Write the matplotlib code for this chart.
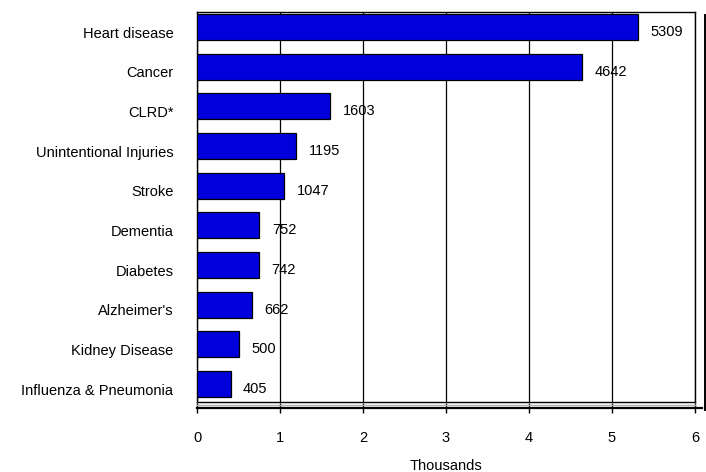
import matplotlib
matplotlib.use("Agg")
import matplotlib.pyplot as plt
import matplotlib.transforms as mtransforms
from matplotlib.lines import Line2D

# Leading causes of death (thousands)
causes = ["Heart disease", "Cancer", "CLRD*", "Unintentional Injuries", "Stroke",
          "Dementia", "Diabetes", "Alzheimer's", "Kidney Disease", "Influenza & Pneumonia"]
deaths = [5309, 4642, 1603, 1195, 1047, 752, 742, 662, 500, 405]
x_ticks = [0, 1, 2, 3, 4, 5, 6]
x_label = "Thousands"

plt.rcParams["font.family"] = ["Liberation Sans", "DejaVu Sans"]

W, H = 706, 472
fig = plt.figure(figsize=(W / 100, H / 100), dpi=100)
ax = fig.add_axes([197 / W, 70 / H, 498 / W, 390 / H])

values_k = [d / 1000 for d in deaths]
ypos = list(range(len(causes)))

ax.set_axisbelow(True)
ax.barh(ypos, values_k, height=0.655, color="#0000DD", edgecolor="black",
        linewidth=0.9, zorder=3)

ax.set_xlim(0, 6)
ax.set_ylim(9.45, -0.38)

# vertical gridlines
ax.set_xticks(x_ticks)
ax.xaxis.grid(True, color="black", linewidth=0.9)
ax.yaxis.grid(False)

# y labels
ax.set_yticks(ypos)
ax.set_yticklabels(causes, fontsize=10.5)
ax.tick_params(axis="y", length=0, pad=17)
down = mtransforms.ScaledTranslation(0, -5 / 100, fig.dpi_scale_trans)
for lbl in ax.get_yticklabels():
    lbl.set_transform(lbl.get_transform() + down)

# frame
for s in ["left", "top", "right"]:
    ax.spines[s].set_color("black")
    ax.spines[s].set_linewidth(1.0)
ax.spines["bottom"].set_position(("outward", 6 * 0.72))
ax.spines["bottom"].set_linewidth(1.6)
ax.plot([0, 1], [0, 0], transform=ax.transAxes, color="black", lw=1.0,
        clip_on=False, zorder=5)
ax.plot([0, 1], [-2.5 / 390, -2.5 / 390], transform=ax.transAxes, color="#B0B0B0",
        lw=1.0, clip_on=False, zorder=5)

ax.set_xticklabels([str(t) for t in x_ticks], fontsize=10.5)
ax.tick_params(axis="x", direction="inout", length=7, width=1.0, pad=13)
ax.set_xlabel(x_label, fontsize=10.5, labelpad=10)

# value labels
for y, v, d in zip(ypos, values_k, deaths):
    ax.annotate(str(d), xy=(v, y), xytext=(9, -3.6), textcoords="offset points",
                ha="left", va="center", fontsize=10.5, zorder=6)

# extended floor line and right edge line
ft = fig.transFigure
fig.add_artist(Line2D([695 / W, 702 / W], [1 - 408 / H, 1 - 408 / H],
                      transform=ft, color="black", lw=1.6))
fig.add_artist(Line2D([705 / W, 705 / W], [1 - 15 / H, 1 - 410 / H],
                      transform=ft, color="black", lw=1.4))

fig.savefig("out.png", dpi=100)
